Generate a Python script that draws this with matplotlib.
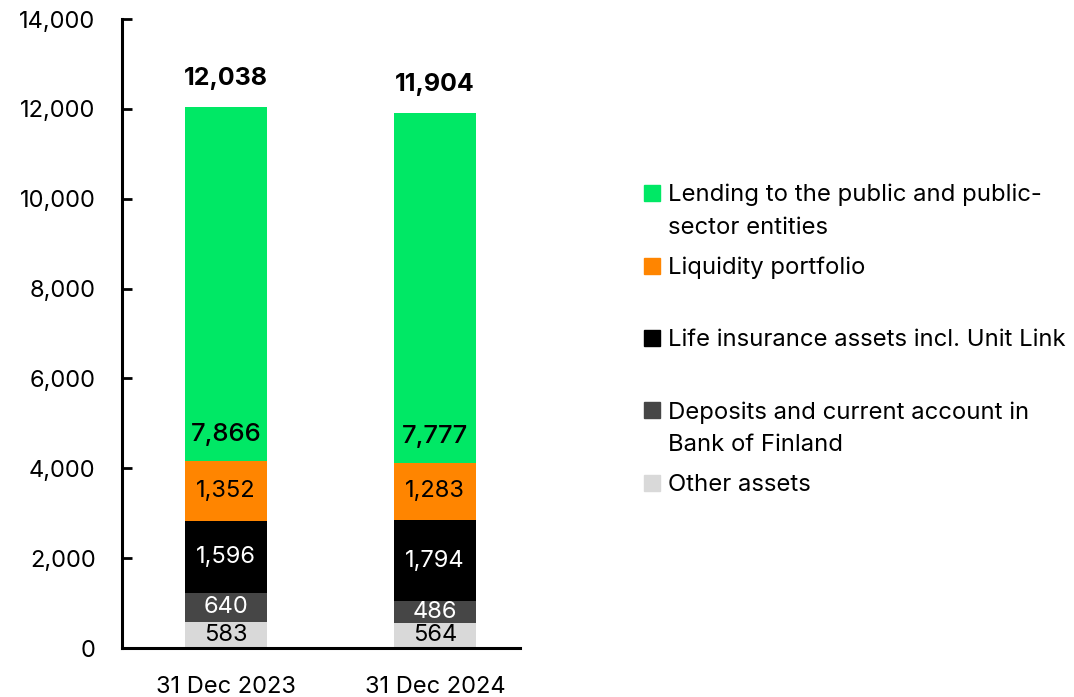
import numpy as np
import matplotlib.pyplot as plt
from matplotlib.patches import Rectangle
from matplotlib.ticker import FuncFormatter

plt.rcParams['font.family'] = ['Inter', 'DejaVu Sans']

# data (EUR million)
dates = ["31 Dec 2023", "31 Dec 2024"]
other = [583, 564]
deposits = [640, 486]
life = [1596, 1794]
liquidity = [1352, 1283]
lending = [7866, 7777]
totals = [12038, 11904]

series = [other, deposits, life, liquidity, lending]
colors = ["#d9d9d9", "#464646", "#000000", "#ff8500", "#00e865"]
text_colors = ["black", "white", "white", "black", "black"]
legend_labels = ["Lending to the public and public-\nsector entities",
                 "Liquidity portfolio",
                 "Life insurance assets incl. Unit Link",
                 "Deposits and current account in\nBank of Finland",
                 "Other assets"]
legend_colors = ["#00e865", "#ff8500", "#000000", "#464646", "#d9d9d9"]

fig = plt.figure(figsize=(10.74, 6.97), dpi=100)
ax = fig.add_axes([0.1136, 0.0703, 0.3706, 0.9024])

x = np.arange(len(dates))
bottom = np.zeros(len(dates))
for i, (vals, col, tc) in enumerate(zip(series, colors, text_colors)):
    ax.bar(x, vals, 0.392, bottom=bottom, color=col)
    for xi, b, v in zip(x, bottom, vals):
        if i == len(series) - 1:
            # top segment label sits near its base
            ax.annotate(f"{v:,}", (xi, b), xytext=(0, 18.5), textcoords="offset points",
                        ha="center", va="center", color=tc, fontsize=18.5,
                        fontweight="medium")
        else:
            ax.text(xi, b + v / 2, f"{v:,}", ha="center", va="center",
                    color=tc, fontsize=17)
    bottom += np.array(vals)

for xi, t in zip(x, totals):
    ax.annotate(f"{t:,}", (xi, t), xytext=(0, 21), textcoords="offset points",
                ha="center", va="center", fontsize=18, fontweight="bold")

ax.set_xlim(-0.498, 1.407)
ax.set_ylim(0, 14000)
ax.set_yticks(np.arange(0, 14001, 2000))
ax.yaxis.set_major_formatter(FuncFormatter(lambda v, p: f"{int(v):,}"))
ax.set_xticks(x)
ax.set_xticklabels(dates)
ax.tick_params(axis="y", direction="in", length=7, width=2, labelsize=17, pad=19)
ax.tick_params(axis="x", length=0, labelsize=17, pad=20)
for s in ["top", "right"]:
    ax.spines[s].set_visible(False)
for s in ["left", "bottom"]:
    ax.spines[s].set_linewidth(2.2)

# legend drawn by hand to keep the uneven spacing
legend_y = [193, 266, 338, 410, 483]
for lab, col, py in zip(legend_labels, legend_colors, legend_y):
    yf = 1 - py / 697
    fig.patches.append(Rectangle((644 / 1074, yf - 8 / 697), 16 / 1074, 16 / 697,
                                 transform=fig.transFigure, color=col))
    fig.text(668 / 1074, yf + 9 / 697, lab, ha="left", va="top",
             fontsize=17.2, linespacing=1.6)

fig.savefig("out.png", dpi=100)
